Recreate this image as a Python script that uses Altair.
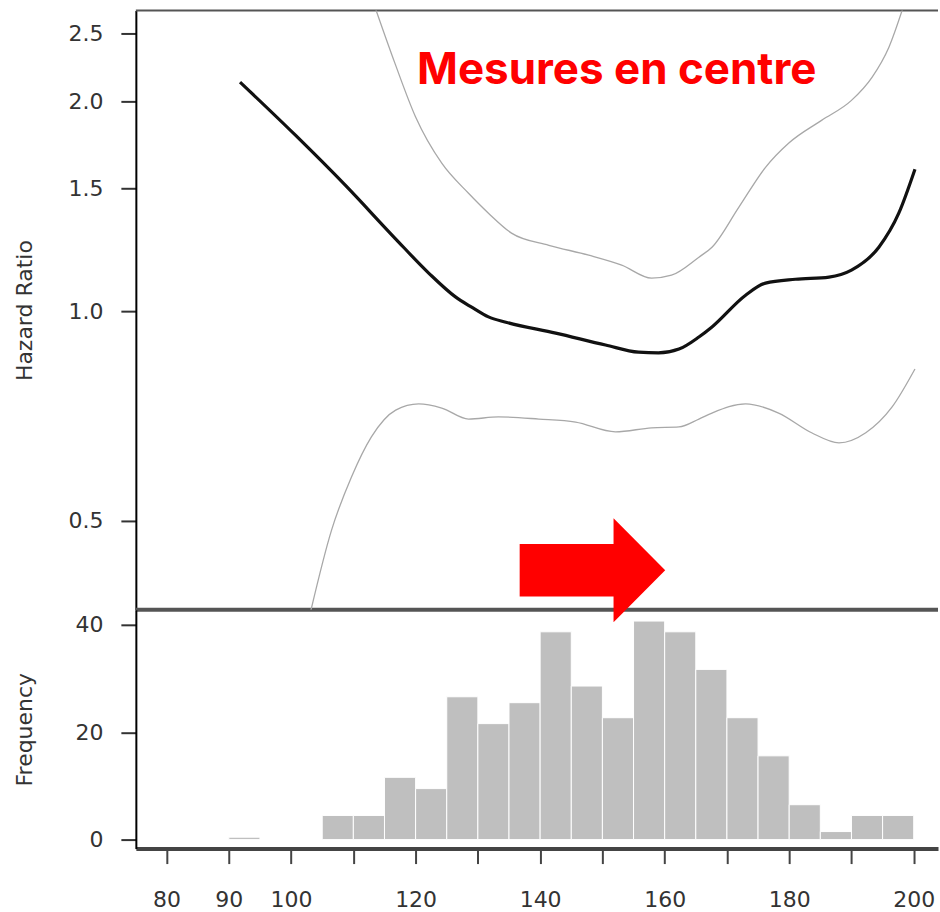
import altair as alt
import pandas as pd

# ---------------- data ----------------
# histogram (bin start, width 5) and frequencies
bin_start = [90, 105, 110, 115, 120, 125, 130, 135, 140, 145,
             150, 155, 160, 165, 170, 175, 180, 185, 190, 195]
freq = [0.45, 4.5, 4.5, 11.6, 9.5, 26.6, 21.6, 25.5, 38.7, 28.6,
        22.7, 40.7, 38.7, 31.7, 22.7, 15.6, 6.5, 1.5, 4.5, 4.5]
bin_width = 5

# hazard ratio estimate
hr_x = [91.8, 100.7, 108.7, 116.7, 122.1, 126.4, 129.0, 131.7, 134.5, 142.5,
        150.5, 155.8, 159.0, 162.3, 165.5, 167.6, 173.0, 176.2, 181.0, 186.4,
        190.0, 194.4, 197.6, 200.2]
hr_y = [2.131, 1.788, 1.516, 1.272, 1.134, 1.048, 1.013, 0.981, 0.964, 0.930,
        0.894, 0.873, 0.871, 0.882, 0.918, 0.949, 1.054, 1.097, 1.111, 1.119,
        1.145, 1.235, 1.382, 1.598]

# upper confidence limit
up_x = [113.2, 116.7, 120.0, 124.2, 128.5, 131.7, 135.4, 141.4, 147.8, 153.1,
        157.9, 161.1, 165.5, 167.6, 171.9, 176.2, 179.9, 185.2, 190.0, 193.3,
        196.0, 198.5]
up_y = [2.775, 2.265, 1.899, 1.630, 1.476, 1.382, 1.294, 1.243, 1.203, 1.164,
        1.115, 1.126, 1.195, 1.235, 1.409, 1.608, 1.741, 1.878, 2.006, 2.165,
        2.390, 2.763]

# lower confidence limit
lo_x = [102.9, 106.5, 109.7, 112.9, 116.8, 120.5, 124.2, 128.5, 133.3, 139.8,
        145.7, 152.1, 157.9, 162.3, 165.5, 167.6, 173.0, 178.3, 183.6, 188.0,
        192.3, 196.5, 200.2]
lo_y = [0.363, 0.485, 0.578, 0.660, 0.721, 0.736, 0.726, 0.700, 0.705, 0.700,
        0.693, 0.671, 0.680, 0.682, 0.700, 0.714, 0.736, 0.714, 0.669, 0.647,
        0.669, 0.728, 0.826]

hr_ticks = [0.5, 1.0, 1.5, 2.0, 2.5]
freq_ticks = [0, 20, 40]
x_ticks = list(range(80, 201, 10))
x_labelled = [80, 90, 100, 120, 140, 160, 180, 200]

annotation = "Mesures en centre"
annot_pos = (152.3, 2.12)
arrow_pos = (148.4, 0.4247)

# ---------------- styles ----------------
FONT = "DejaVu Sans"
TXT = "#333333"
X_DOMAIN = [75.07, 203.9]
W = 803
H_TOP = 600
H_BOT = 239

x_top = alt.X("x:Q", scale=alt.Scale(domain=X_DOMAIN, nice=False, zero=False), axis=None)
y_scale = alt.Scale(type="log", domain=[0.3727, 2.70], nice=False, zero=False)

y_axis_top = alt.Axis(values=hr_ticks, format=".1f", grid=False, tickSize=15, tickWidth=2,
                      tickColor="#333333", domainColor="#000000", domainWidth=2,
                      labelFont=FONT, labelFontSize=22, labelColor=TXT, labelPadding=18,
                      title="Hazard Ratio", titleFont=FONT, titleFontSize=22,
                      titleFontWeight="normal", titleColor=TXT, titlePadding=31)

df_hr = pd.DataFrame({"x": hr_x, "y": hr_y})
df_up = pd.DataFrame({"x": up_x, "y": up_y})
df_lo = pd.DataFrame({"x": lo_x, "y": lo_y})

center = alt.Chart(df_hr).mark_line(color="#111111", strokeWidth=3.2, interpolate="monotone", clip=True).encode(
    x=x_top, y=alt.Y("y:Q", scale=y_scale, axis=y_axis_top))
upper = alt.Chart(df_up).mark_line(color="#a8a8a8", strokeWidth=1.3, interpolate="monotone", clip=True).encode(
    x=x_top, y=alt.Y("y:Q", scale=y_scale))
lower = alt.Chart(df_lo).mark_line(color="#a8a8a8", strokeWidth=1.3, interpolate="monotone", clip=True).encode(
    x=x_top, y=alt.Y("y:Q", scale=y_scale))

df_txt = pd.DataFrame({"x": [annot_pos[0]], "y": [annot_pos[1]], "t": [annotation]})
label = alt.Chart(df_txt).mark_text(font="Inter", fontWeight="bold", fontSize=44, color="#ff0000",
                                    align="center", baseline="alphabetic").encode(
    x=x_top, y=alt.Y("y:Q", scale=y_scale), text="t:N")

arrow_path = "M -1 -0.36 L 0.29 -0.36 L 0.29 -0.715 L 1 0 L 0.29 0.715 L 0.29 0.36 L -1 0.36 Z"
df_arrow = pd.DataFrame({"x": [arrow_pos[0]], "y": [arrow_pos[1]]})

top_line = alt.Chart(df_arrow).mark_rule(color="#555555", strokeWidth=2).encode(
    x=alt.value(0), x2=alt.value(W), y=alt.value(0))
bottom_line = alt.Chart(df_arrow).mark_rule(color="#555555", strokeWidth=4).encode(
    x=alt.value(0), x2=alt.value(W), y=alt.value(H_TOP))

arrow = alt.Chart(df_arrow).mark_point(shape=arrow_path, filled=True, color="#ff0000", opacity=1,
                                       size=21228, strokeWidth=0).encode(
    x=x_top, y=alt.Y("y:Q", scale=y_scale))

top = alt.layer(top_line, bottom_line, upper, lower, center, label, arrow).properties(width=W, height=H_TOP)

# ---------------- histogram ----------------
df_hist = pd.DataFrame({"x": bin_start,
                        "x2": [b + bin_width for b in bin_start],
                        "f": freq,
                        "z": [0] * len(freq)})

x_bot_axis = alt.Axis(values=x_ticks, format="d", grid=False, tickSize=15, tickWidth=2,
                      tickColor="#444444", domainColor="#444444", domainWidth=4,
                      labelFont=FONT, labelFontSize=22, labelColor=TXT, labelPadding=26,
                      labelOverlap=False, labelFlush=False,
                      labelExpr="indexof(" + str(x_labelled) + ", datum.value) >= 0 ? datum.label : ''",
                      title=None)
y_bot_axis = alt.Axis(values=freq_ticks, format="d", grid=False, tickSize=15, tickWidth=2,
                      tickColor="#333333", domainColor="#000000", domainWidth=2,
                      labelFont=FONT, labelFontSize=22, labelColor=TXT, labelPadding=18,
                      title="Frequency", titleFont=FONT, titleFontSize=22,
                      titleFontWeight="normal", titleColor=TXT, titlePadding=38)

bars = alt.Chart(df_hist).mark_rect(color="#bfbfbf", stroke="white", strokeWidth=1).encode(
    x=alt.X("x:Q", scale=alt.Scale(domain=X_DOMAIN, nice=False, zero=False), axis=x_bot_axis),
    x2="x2:Q",
    y=alt.Y("f:Q", scale=alt.Scale(domain=[-1.67, 42.79], nice=False, zero=False), axis=y_bot_axis),
    y2="z:Q",
).properties(width=W, height=H_BOT)

chart = alt.vconcat(top, bars, spacing=0, bounds="flush").properties(
    padding={"left": 14, "top": 9, "right": 0, "bottom": 0},
    background="white",
).configure_view(stroke=None)

chart.save("out.html", embed_options={"renderer": "svg", "actions": False})
